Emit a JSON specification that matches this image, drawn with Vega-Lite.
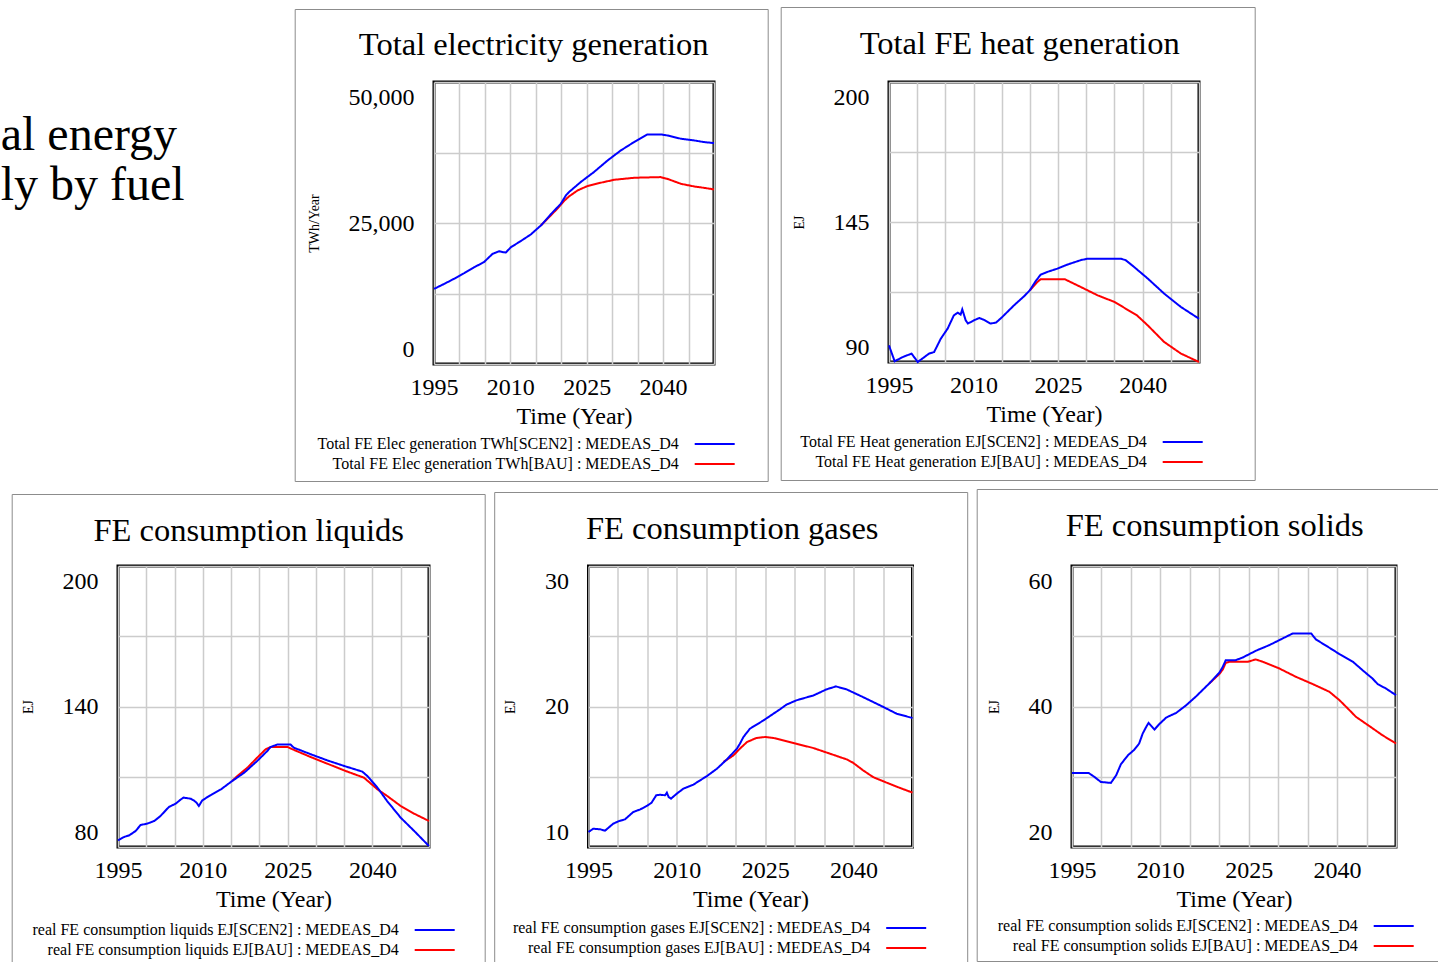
{
  "$schema": "https://vega.github.io/schema/vega-lite/v6.json",
  "padding": {"left": 0, "top": 5, "right": 0, "bottom": 0},
  "background": "white",
  "datasets": {
    "elec": [
      {"series":"SCEN2","year":1995,"value":13313},{"series":"SCEN2","year":1997,"value":14200},{"series":"SCEN2","year":1998.9,"value":15090},{"series":"SCEN2","year":2000.9,"value":16090},{"series":"SCEN2","year":2002.9,"value":17160},{"series":"SCEN2","year":2004.8,"value":18050},{"series":"SCEN2","year":2006.5,"value":19530},{"series":"SCEN2","year":2007.8,"value":20000},{"series":"SCEN2","year":2008.6,"value":19820},{"series":"SCEN2","year":2009.1,"value":19760},{"series":"SCEN2","year":2010.1,"value":20710},{"series":"SCEN2","year":2012,"value":21770},{"series":"SCEN2","year":2014,"value":22960},{"series":"SCEN2","year":2016,"value":24560},{"series":"SCEN2","year":2017.9,"value":26510},{"series":"SCEN2","year":2019.9,"value":28400},{"series":"SCEN2","year":2020.9,"value":29880},{"series":"SCEN2","year":2021.5,"value":30470},{"series":"SCEN2","year":2023.8,"value":32250},{"series":"SCEN2","year":2026.4,"value":34020},{"series":"SCEN2","year":2029.1,"value":36090},{"series":"SCEN2","year":2031.7,"value":37870},{"series":"SCEN2","year":2034.3,"value":39350},{"series":"SCEN2","year":2036.9,"value":40710},{"series":"SCEN2","year":2039.5,"value":40710},{"series":"SCEN2","year":2040.8,"value":40530},{"series":"SCEN2","year":2043.5,"value":39940},{"series":"SCEN2","year":2046.1,"value":39640},{"series":"SCEN2","year":2048,"value":39350},{"series":"SCEN2","year":2050,"value":39170},
      {"series":"BAU","year":2016,"value":24560},{"series":"BAU","year":2017.6,"value":26030},{"series":"BAU","year":2019.2,"value":27510},{"series":"BAU","year":2020.5,"value":28870},{"series":"BAU","year":2021.5,"value":29700},{"series":"BAU","year":2023.2,"value":30770},{"series":"BAU","year":2025.1,"value":31540},{"series":"BAU","year":2027.7,"value":32130},{"series":"BAU","year":2030.4,"value":32660},{"series":"BAU","year":2034.3,"value":33020},{"series":"BAU","year":2039.5,"value":33140},{"series":"BAU","year":2040.8,"value":32840},{"series":"BAU","year":2043.5,"value":31950},{"series":"BAU","year":2046.1,"value":31480},{"series":"BAU","year":2048,"value":31240},{"series":"BAU","year":2050,"value":30950}
    ],
    "heat": [
      {"series":"SCEN2","year":1995,"value":96.5},{"series":"SCEN2","year":1996,"value":90.3},{"series":"SCEN2","year":1997.5,"value":92.0},{"series":"SCEN2","year":1999,"value":93.3},{"series":"SCEN2","year":2000.1,"value":90.0},{"series":"SCEN2","year":2002.1,"value":93.3},{"series":"SCEN2","year":2003,"value":93.9},{"series":"SCEN2","year":2004.2,"value":99.2},{"series":"SCEN2","year":2005.4,"value":103.1},{"series":"SCEN2","year":2006.5,"value":108.3},{"series":"SCEN2","year":2007.2,"value":109.4},{"series":"SCEN2","year":2007.7,"value":108.6},{"series":"SCEN2","year":2008,"value":110.7},{"series":"SCEN2","year":2008.6,"value":106.4},{"series":"SCEN2","year":2009,"value":105.1},{"series":"SCEN2","year":2010.1,"value":106.4},{"series":"SCEN2","year":2011,"value":107.3},{"series":"SCEN2","year":2012,"value":106.4},{"series":"SCEN2","year":2013,"value":105.1},{"series":"SCEN2","year":2014,"value":105.5},{"series":"SCEN2","year":2015.1,"value":107.7},{"series":"SCEN2","year":2017.2,"value":112.3},{"series":"SCEN2","year":2019,"value":115.9},{"series":"SCEN2","year":2020,"value":118.2},{"series":"SCEN2","year":2021,"value":121.7},{"series":"SCEN2","year":2021.9,"value":124.3},{"series":"SCEN2","year":2023.1,"value":125.4},{"series":"SCEN2","year":2024.9,"value":126.7},{"series":"SCEN2","year":2026.7,"value":128.3},{"series":"SCEN2","year":2029,"value":130.0},{"series":"SCEN2","year":2030.2,"value":130.6},{"series":"SCEN2","year":2036.1,"value":130.6},{"series":"SCEN2","year":2037,"value":130.0},{"series":"SCEN2","year":2038.5,"value":127.3},{"series":"SCEN2","year":2040.9,"value":122.8},{"series":"SCEN2","year":2043.8,"value":116.9},{"series":"SCEN2","year":2046.8,"value":111.6},{"series":"SCEN2","year":2050,"value":107.0},
      {"series":"BAU","year":2020,"value":118.2},{"series":"BAU","year":2021.3,"value":121.4},{"series":"BAU","year":2021.9,"value":122.5},{"series":"BAU","year":2026.2,"value":122.5},{"series":"BAU","year":2029,"value":119.5},{"series":"BAU","year":2032,"value":116.2},{"series":"BAU","year":2035,"value":113.6},{"series":"BAU","year":2039,"value":108.3},{"series":"BAU","year":2040.9,"value":104.4},{"series":"BAU","year":2043.8,"value":97.9},{"series":"BAU","year":2046.8,"value":93.3},{"series":"BAU","year":2050,"value":90.0}
    ],
    "liquids": [
      {"series":"SCEN2","year":1995,"value":82.8},{"series":"SCEN2","year":1996.1,"value":84.3},{"series":"SCEN2","year":1997,"value":85.0},{"series":"SCEN2","year":1998.1,"value":86.8},{"series":"SCEN2","year":1999,"value":89.4},{"series":"SCEN2","year":2000.2,"value":90.0},{"series":"SCEN2","year":2001.4,"value":91.1},{"series":"SCEN2","year":2002.5,"value":93.2},{"series":"SCEN2","year":2004,"value":97.1},{"series":"SCEN2","year":2005.2,"value":98.5},{"series":"SCEN2","year":2006.1,"value":100.3},{"series":"SCEN2","year":2006.6,"value":101.1},{"series":"SCEN2","year":2007.9,"value":100.6},{"series":"SCEN2","year":2008.4,"value":99.9},{"series":"SCEN2","year":2008.9,"value":98.9},{"series":"SCEN2","year":2009.3,"value":97.5},{"series":"SCEN2","year":2009.9,"value":99.9},{"series":"SCEN2","year":2011.4,"value":102.2},{"series":"SCEN2","year":2013.2,"value":104.6},{"series":"SCEN2","year":2015.2,"value":108.2},{"series":"SCEN2","year":2017.3,"value":111.7},{"series":"SCEN2","year":2019.6,"value":116.7},{"series":"SCEN2","year":2021.4,"value":121.0},{"series":"SCEN2","year":2022,"value":122.7},{"series":"SCEN2","year":2023.2,"value":123.8},{"series":"SCEN2","year":2025.5,"value":123.8},{"series":"SCEN2","year":2026.1,"value":122.4},{"series":"SCEN2","year":2029.1,"value":119.6},{"series":"SCEN2","year":2032,"value":117.0},{"series":"SCEN2","year":2035,"value":114.6},{"series":"SCEN2","year":2038.2,"value":112.2},{"series":"SCEN2","year":2039.1,"value":110.3},{"series":"SCEN2","year":2040.9,"value":105.3},{"series":"SCEN2","year":2042.6,"value":99.6},{"series":"SCEN2","year":2045,"value":92.5},{"series":"SCEN2","year":2047.4,"value":86.8},{"series":"SCEN2","year":2050,"value":80.4},
      {"series":"BAU","year":2015.2,"value":108.2},{"series":"BAU","year":2016.1,"value":110.3},{"series":"BAU","year":2017.9,"value":113.9},{"series":"BAU","year":2019.6,"value":118.1},{"series":"BAU","year":2021.1,"value":121.7},{"series":"BAU","year":2022,"value":122.7},{"series":"BAU","year":2025,"value":122.7},{"series":"BAU","year":2025.5,"value":122.1},{"series":"BAU","year":2029.1,"value":118.4},{"series":"BAU","year":2032,"value":115.6},{"series":"BAU","year":2035,"value":112.7},{"series":"BAU","year":2038.5,"value":109.6},{"series":"BAU","year":2040.9,"value":104.6},{"series":"BAU","year":2042.6,"value":101.8},{"series":"BAU","year":2045,"value":97.5},{"series":"BAU","year":2047.4,"value":94.2},{"series":"BAU","year":2050,"value":91.1}
    ],
    "gases": [
      {"series":"SCEN2","year":1995,"value":11.07},{"series":"SCEN2","year":1995.8,"value":11.30},{"series":"SCEN2","year":1997,"value":11.26},{"series":"SCEN2","year":1997.8,"value":11.16},{"series":"SCEN2","year":1999.2,"value":11.66},{"series":"SCEN2","year":2000.1,"value":11.83},{"series":"SCEN2","year":2001.2,"value":11.97},{"series":"SCEN2","year":2002.6,"value":12.49},{"series":"SCEN2","year":2003.8,"value":12.68},{"series":"SCEN2","year":2004.9,"value":12.92},{"series":"SCEN2","year":2005.7,"value":13.15},{"series":"SCEN2","year":2006.5,"value":13.68},{"series":"SCEN2","year":2007.2,"value":13.72},{"series":"SCEN2","year":2008,"value":13.68},{"series":"SCEN2","year":2008.3,"value":13.87},{"series":"SCEN2","year":2008.6,"value":13.56},{"series":"SCEN2","year":2009,"value":13.44},{"series":"SCEN2","year":2010,"value":13.80},{"series":"SCEN2","year":2011.1,"value":14.15},{"series":"SCEN2","year":2012.8,"value":14.44},{"series":"SCEN2","year":2015.1,"value":15.05},{"series":"SCEN2","year":2016.8,"value":15.57},{"series":"SCEN2","year":2018.5,"value":16.24},{"series":"SCEN2","year":2020.2,"value":17.00},{"series":"SCEN2","year":2020.7,"value":17.35},{"series":"SCEN2","year":2021.3,"value":17.83},{"series":"SCEN2","year":2022.4,"value":18.42},{"series":"SCEN2","year":2024.7,"value":19.01},{"series":"SCEN2","year":2027.5,"value":19.80},{"series":"SCEN2","year":2028.6,"value":20.13},{"series":"SCEN2","year":2030.3,"value":20.44},{"series":"SCEN2","year":2033.2,"value":20.79},{"series":"SCEN2","year":2035.4,"value":21.22},{"series":"SCEN2","year":2037,"value":21.43},{"series":"SCEN2","year":2038.8,"value":21.22},{"series":"SCEN2","year":2041.6,"value":20.67},{"series":"SCEN2","year":2044.5,"value":20.08},{"series":"SCEN2","year":2047.3,"value":19.49},{"series":"SCEN2","year":2050,"value":19.18},
      {"series":"BAU","year":2017.9,"value":16.05},{"series":"BAU","year":2019.6,"value":16.52},{"series":"BAU","year":2020.7,"value":17.00},{"series":"BAU","year":2021.9,"value":17.47},{"series":"BAU","year":2023.5,"value":17.76},{"series":"BAU","year":2025,"value":17.83},{"series":"BAU","year":2026.4,"value":17.76},{"series":"BAU","year":2030.3,"value":17.35},{"series":"BAU","year":2033.2,"value":17.04},{"series":"BAU","year":2036,"value":16.64},{"series":"BAU","year":2038.8,"value":16.24},{"series":"BAU","year":2039.9,"value":16.00},{"series":"BAU","year":2041.6,"value":15.46},{"series":"BAU","year":2043.3,"value":14.98},{"series":"BAU","year":2045.6,"value":14.58},{"series":"BAU","year":2047.9,"value":14.20},{"series":"BAU","year":2050,"value":13.87}
    ],
    "solids": [
      {"series":"SCEN2","year":1995,"value":30.55},{"series":"SCEN2","year":1997.8,"value":30.55},{"series":"SCEN2","year":1998.8,"value":29.98},{"series":"SCEN2","year":1999.9,"value":29.26},{"series":"SCEN2","year":2001.6,"value":29.12},{"series":"SCEN2","year":2002.5,"value":30.21},{"series":"SCEN2","year":2003.3,"value":31.78},{"series":"SCEN2","year":2004.5,"value":33.06},{"series":"SCEN2","year":2005.6,"value":33.87},{"series":"SCEN2","year":2006.4,"value":34.73},{"series":"SCEN2","year":2007,"value":36.15},{"series":"SCEN2","year":2007.6,"value":37.10},{"series":"SCEN2","year":2008,"value":37.67},{"series":"SCEN2","year":2008.6,"value":37.10},{"series":"SCEN2","year":2009,"value":36.72},{"series":"SCEN2","year":2009.8,"value":37.48},{"series":"SCEN2","year":2011,"value":38.43},{"series":"SCEN2","year":2012.7,"value":39.10},{"series":"SCEN2","year":2014.4,"value":40.19},{"series":"SCEN2","year":2016.1,"value":41.47},{"series":"SCEN2","year":2018.3,"value":43.28},{"series":"SCEN2","year":2020,"value":44.80},{"series":"SCEN2","year":2020.6,"value":45.65},{"series":"SCEN2","year":2021.1,"value":46.60},{"series":"SCEN2","year":2022.8,"value":46.60},{"series":"SCEN2","year":2024,"value":46.98},{"series":"SCEN2","year":2026.2,"value":47.93},{"series":"SCEN2","year":2028.5,"value":48.74},{"series":"SCEN2","year":2030.2,"value":49.45},{"series":"SCEN2","year":2031.9,"value":50.16},{"series":"SCEN2","year":2032.5,"value":50.40},{"series":"SCEN2","year":2035.6,"value":50.40},{"series":"SCEN2","year":2036.4,"value":49.55},{"series":"SCEN2","year":2038.7,"value":48.36},{"series":"SCEN2","year":2040.4,"value":47.46},{"series":"SCEN2","year":2042.7,"value":46.36},{"series":"SCEN2","year":2044.3,"value":45.18},{"series":"SCEN2","year":2046,"value":43.99},{"series":"SCEN2","year":2046.9,"value":43.18},{"series":"SCEN2","year":2048.3,"value":42.56},{"series":"SCEN2","year":2050,"value":41.61},
      {"series":"BAU","year":2018.3,"value":43.28},{"series":"BAU","year":2020,"value":44.61},{"series":"BAU","year":2020.6,"value":45.27},{"series":"BAU","year":2021.1,"value":46.22},{"series":"BAU","year":2021.7,"value":46.36},{"series":"BAU","year":2024.8,"value":46.36},{"series":"BAU","year":2026.2,"value":46.70},{"series":"BAU","year":2027.4,"value":46.36},{"series":"BAU","year":2030.2,"value":45.41},{"series":"BAU","year":2033,"value":44.23},{"series":"BAU","year":2035.9,"value":43.18},{"series":"BAU","year":2038.7,"value":42.09},{"series":"BAU","year":2040.4,"value":40.90},{"series":"BAU","year":2042.1,"value":39.48},{"series":"BAU","year":2043.2,"value":38.53},{"series":"BAU","year":2045.5,"value":37.20},{"series":"BAU","year":2047.7,"value":35.91},{"series":"BAU","year":2050,"value":34.73}
    ]
  },
  "vconcat": [
    {
      "hconcat": [
        {
          "width": 141, "height": 30,
          "view": {"stroke": null, "fill": "#ffffff"},
          "data": {"values": []},
          "mark": "text",
          "title": {"text": ["al energy", "ly by fuel"], "orient": "bottom", "anchor": "start", "frame": "group", "dx": -117.3, "fontSize": 48, "lineHeight": 50, "baseline": "alphabetic", "offset": 38}
        },
        {
          "title": {"text": "Total electricity generation", "dx": -40.3, "offset": -53},
          "width": 280, "height": 282,
          "data": {"name": "elec"},
          "encoding": {
            "x": {"field": "year", "type": "quantitative", "title": "Time (Year)", "scale": {"domain": [1995, 2050], "nice": false, "zero": false},
                  "axis": {"values": [1995,2000,2005,2010,2015,2020,2025,2030,2035,2040,2045,2050], "format": "d", "labelExpr": "(datum.value - 1995) % 15 == 0 ? datum.label : ''"}},
            "y": {"field": "value", "type": "quantitative", "title": "TWh/Year", "scale": {"domain": [0, 50000], "nice": false, "zero": false},
                  "axis": {"values": [0,12500,25000,37500,50000], "labelExpr": "indexof([0,25000,50000], datum.value) >= 0 ? format(datum.value, ',') : ''"}},
            "color": {"field": "series", "type": "nominal", "scale": {"domain": ["SCEN2","BAU"], "range": ["#0000ff","#ff0000"]},
                      "legend": {"title": null, "orient": "none", "legendX": 269.7, "legendY": 351, "labelExpr": "'Total FE Elec generation TWh[' + datum.label + '] : MEDEAS_D4'"}},
            "strokeDash": {"datum": "panel", "type": "nominal", "scale": {"range": [[1, 0]]},
                      "legend": {"title": null, "orient": "none", "legendX": -139.3, "legendY": -73, "padding": 235, "strokeColor": "#8c8c8c", "symbolOpacity": 0, "symbolSize": 1, "labelFontSize": 1, "labelOffset": 0, "labelExpr": "''"}}
          },
          "layer": [
            {"transform": [{"filter": "datum.series == 'BAU'"}], "mark": {"type": "line", "strokeWidth": 2}},
            {"transform": [{"filter": "datum.series == 'SCEN2'"}], "mark": {"type": "line", "strokeWidth": 2}}
          ]
        },
        {
          "title": {"text": "Total FE heat generation", "dx": -24.3, "offset": -54},
          "width": 310, "height": 280,
          "data": {"name": "heat"},
          "encoding": {
            "x": {"field": "year", "type": "quantitative", "title": "Time (Year)", "scale": {"domain": [1995, 2050], "nice": false, "zero": false},
                  "axis": {"values": [1995,2000,2005,2010,2015,2020,2025,2030,2035,2040,2045,2050], "format": "d", "labelExpr": "(datum.value - 1995) % 15 == 0 ? datum.label : ''"}},
            "y": {"field": "value", "type": "quantitative", "title": "EJ", "scale": {"domain": [90, 200], "nice": false, "zero": false},
                  "axis": {"values": [90,117.5,145,172.5,200], "labelExpr": "indexof([90,145,200], datum.value) >= 0 ? format(datum.value, 'd') : ''"}},
            "color": {"field": "series", "type": "nominal", "scale": {"domain": ["SCEN2","BAU"], "range": ["#0000ff","#ff0000"]},
                      "legend": {"title": null, "orient": "none", "legendX": 282.7, "legendY": 349, "labelExpr": "'Total FE Heat generation EJ[' + datum.label + '] : MEDEAS_D4'"}},
            "strokeDash": {"datum": "panel", "type": "nominal", "scale": {"range": [[1, 0]]},
                      "legend": {"title": null, "orient": "none", "legendX": -108.3, "legendY": -75, "padding": 235.5, "strokeColor": "#8c8c8c", "symbolOpacity": 0, "symbolSize": 1, "labelFontSize": 1, "labelOffset": 0, "labelExpr": "''"}}
          },
          "layer": [
            {"transform": [{"filter": "datum.series == 'BAU'"}], "mark": {"type": "line", "strokeWidth": 2}},
            {"transform": [{"filter": "datum.series == 'SCEN2'"}], "mark": {"type": "line", "strokeWidth": 2}}
          ]
        }
      ],
      "spacing": 175,
      "bounds": "flush",
      "resolve": {"scale": {"color": "independent", "strokeDash": "independent"}}
    },
    {
      "hconcat": [
        {
          "title": {"text": "FE consumption liquids", "dx": -24.8, "offset": -54},
          "width": 311, "height": 281,
          "data": {"name": "liquids"},
          "encoding": {
            "x": {"field": "year", "type": "quantitative", "title": "Time (Year)", "scale": {"domain": [1995, 2050], "nice": false, "zero": false},
                  "axis": {"values": [1995,2000,2005,2010,2015,2020,2025,2030,2035,2040,2045,2050], "format": "d", "labelExpr": "(datum.value - 1995) % 15 == 0 ? datum.label : ''"}},
            "y": {"field": "value", "type": "quantitative", "title": "EJ", "scale": {"domain": [80, 200], "nice": false, "zero": false},
                  "axis": {"values": [80,110,140,170,200], "labelExpr": "indexof([80,140,200], datum.value) >= 0 ? format(datum.value, 'd') : ''"}},
            "color": {"field": "series", "type": "nominal", "scale": {"domain": ["SCEN2","BAU"], "range": ["#0000ff","#ff0000"]},
                      "legend": {"title": null, "orient": "none", "legendX": 305.7, "legendY": 353, "labelExpr": "'real FE consumption liquids EJ[' + datum.label + '] : MEDEAS_D4'"}},
            "strokeDash": {"datum": "panel", "type": "nominal", "scale": {"range": [[1, 0]]},
                      "legend": {"title": null, "orient": "none", "legendX": -106.3, "legendY": -72, "padding": 235, "strokeColor": "#8c8c8c", "symbolOpacity": 0, "symbolSize": 1, "labelFontSize": 1, "labelOffset": 0, "labelExpr": "''"}}
          },
          "layer": [
            {"transform": [{"filter": "datum.series == 'BAU'"}], "mark": {"type": "line", "strokeWidth": 2}},
            {"transform": [{"filter": "datum.series == 'SCEN2'"}], "mark": {"type": "line", "strokeWidth": 2}}
          ]
        },
        {
          "title": {"text": "FE consumption gases", "dx": -18.3, "offset": -54},
          "width": 324, "height": 281,
          "data": {"name": "gases"},
          "encoding": {
            "x": {"field": "year", "type": "quantitative", "title": "Time (Year)", "scale": {"domain": [1995, 2050], "nice": false, "zero": false},
                  "axis": {"values": [1995,2000,2005,2010,2015,2020,2025,2030,2035,2040,2045,2050], "format": "d", "labelExpr": "(datum.value - 1995) % 15 == 0 ? datum.label : ''"}},
            "y": {"field": "value", "type": "quantitative", "title": "EJ", "scale": {"domain": [10, 30], "nice": false, "zero": false},
                  "axis": {"values": [10,15,20,25,30], "labelExpr": "indexof([10,20,30], datum.value) >= 0 ? format(datum.value, 'd') : ''"}},
            "color": {"field": "series", "type": "nominal", "scale": {"domain": ["SCEN2","BAU"], "range": ["#0000ff","#ff0000"]},
                      "legend": {"title": null, "orient": "none", "legendX": 306.7, "legendY": 351, "labelExpr": "'real FE consumption gases EJ[' + datum.label + '] : MEDEAS_D4'"}},
            "strokeDash": {"datum": "panel", "type": "nominal", "scale": {"range": [[1, 0]]},
                      "legend": {"title": null, "orient": "none", "legendX": -94.3, "legendY": -74, "padding": 235, "strokeColor": "#8c8c8c", "symbolOpacity": 0, "symbolSize": 1, "labelFontSize": 1, "labelOffset": 0, "labelExpr": "''"}}
          },
          "layer": [
            {"transform": [{"filter": "datum.series == 'BAU'"}], "mark": {"type": "line", "strokeWidth": 2}},
            {"transform": [{"filter": "datum.series == 'SCEN2'"}], "mark": {"type": "line", "strokeWidth": 2}}
          ]
        },
        {
          "title": {"text": "FE consumption solids", "dx": -19.3, "offset": -54},
          "width": 324, "height": 281,
          "data": {"name": "solids"},
          "encoding": {
            "x": {"field": "year", "type": "quantitative", "title": "Time (Year)", "scale": {"domain": [1995, 2050], "nice": false, "zero": false},
                  "axis": {"values": [1995,2000,2005,2010,2015,2020,2025,2030,2035,2040,2045,2050], "format": "d", "labelExpr": "(datum.value - 1995) % 15 == 0 ? datum.label : ''"}},
            "y": {"field": "value", "type": "quantitative", "title": "EJ", "scale": {"domain": [20, 60], "nice": false, "zero": false},
                  "axis": {"values": [20,30,40,50,60], "labelExpr": "indexof([20,40,60], datum.value) >= 0 ? format(datum.value, 'd') : ''"}},
            "color": {"field": "series", "type": "nominal", "scale": {"domain": ["SCEN2","BAU"], "range": ["#0000ff","#ff0000"]},
                      "legend": {"title": null, "orient": "none", "legendX": 310.7, "legendY": 349, "labelExpr": "'real FE consumption solids EJ[' + datum.label + '] : MEDEAS_D4'"}},
            "strokeDash": {"datum": "panel", "type": "nominal", "scale": {"range": [[1, 0]]},
                      "legend": {"title": null, "orient": "none", "legendX": -95.3, "legendY": -77, "padding": 235, "strokeColor": "#8c8c8c", "symbolOpacity": 0, "symbolSize": 1, "labelFontSize": 1, "labelOffset": 0, "labelExpr": "''"}}
          },
          "layer": [
            {"transform": [{"filter": "datum.series == 'BAU'"}], "mark": {"type": "line", "strokeWidth": 2}},
            {"transform": [{"filter": "datum.series == 'SCEN2'"}], "mark": {"type": "line", "strokeWidth": 2}}
          ]
        }
      ],
      "spacing": 159.5,
      "bounds": "flush",
      "resolve": {"scale": {"color": "independent", "strokeDash": "independent"}}
    }
  ],
  "spacing": 484,
  "bounds": "flush",
  "resolve": {"scale": {"color": "independent", "strokeDash": "independent"}},
  "config": {
    "font": "Liberation Serif",
    "view": {"stroke": "#000000", "strokeWidth": 3},
    "axis": {"labelFont": "Liberation Serif", "titleFont": "Liberation Serif", "labelColor": "#000000", "titleColor": "#000000", "labelFontSize": 24, "titleFontWeight": "normal", "grid": true, "gridColor": "#cccccc", "gridWidth": 1.5, "gridOpacity": 1, "domain": false, "ticks": false, "tickSize": 0, "labelOverlap": false, "labelBound": false},
    "axisX": {"labelPadding": 11, "labelFlush": false, "titleFontSize": 24, "titlePadding": 5},
    "axisY": {"labelPadding": 20, "labelFlush": true, "labelFlushOffset": -3, "titleFontSize": 14, "titlePadding": 27},
    "title": {"font": "Liberation Serif", "fontSize": 32.5, "fontWeight": "normal", "color": "#000000", "baseline": "alphabetic", "offset": 20.5, "anchor": "middle", "frame": "group"},
    "legend": {"labelFont": "Liberation Serif", "labelFontSize": 16, "labelColor": "#000000", "labelLimit": 600, "symbolType": "M-2,0H2", "symbolSize": 400, "symbolStrokeWidth": 2, "rowPadding": 1, "padding": 0, "labelAlign": "right", "labelOffset": -47}
  }
}
